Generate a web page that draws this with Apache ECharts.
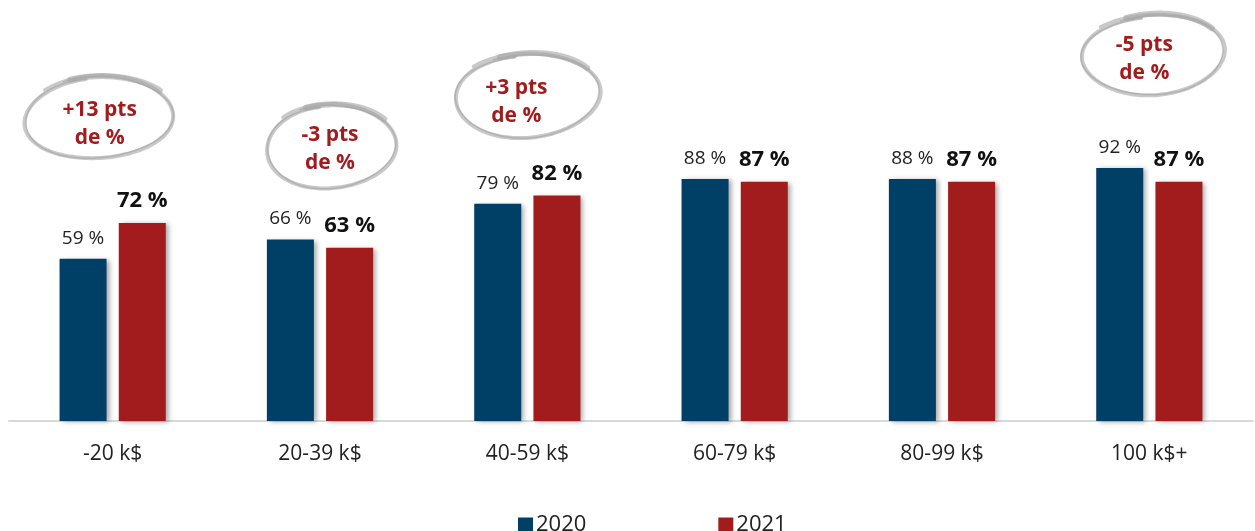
<!DOCTYPE html>
<html>
<head>
<meta charset="utf-8">
<script src="https://cdn.jsdelivr.net/npm/echarts@6/dist/echarts.min.js"></script>
<style>
  html, body { margin: 0; padding: 0; background: #ffffff; }
  #chart { width: 1255px; height: 531px; }
</style>
</head>
<body>
<div id="chart"></div>
<script>
// Income brackets and share per year (%)
const categories = ['-20 k$', '20-39 k$', '40-59 k$', '60-79 k$', '80-99 k$', '100 k$+'];
const values2020 = [59, 66, 79, 88, 88, 92];
const values2021 = [72, 63, 82, 87, 87, 87];
const seriesNames = ['2020', '2021'];

// Change call-outs: category index and text
const noteCategories = [0, 1, 2, 5];
const noteTexts = ['+13 pts\nde %', '-3 pts\nde %', '+3 pts\nde %', '-5 pts\nde %'];

// Call-out placement (pixel offsets from the category centre, absolute y)
const noteLayout = [
  { ringDx: -15, ringY: 118, rx: 77, ry: 42, textDx: -13, textY: 124 },
  { ringDx: 10,  ringY: 147, rx: 67, ry: 43, textDx: 10,  textY: 149 },
  { ringDx: -1,  ringY: 96,  rx: 75, ry: 43, textDx: -11, textY: 102 },
  { ringDx: 3,   ringY: 55,  rx: 74, ry: 41, textDx: -5,  textY: 59 }
];

const FONT = '"Open Sans", "Noto Sans", sans-serif';
const NAVY = '#003f66';
const RED = '#a21c1e';

const chart = echarts.init(document.getElementById('chart'), null, { renderer: 'canvas' });

const barShadow = {
  shadowColor: 'rgba(0,0,0,0.35)',
  shadowBlur: 5,
  shadowOffsetX: 3,
  shadowOffsetY: 1
};

chart.setOption({
  animation: false,
  backgroundColor: '#ffffff',
  textStyle: { fontFamily: FONT },
  grid: { left: 9, right: 2, top: 146, bottom: 110, containLabel: false },
  legend: {
    data: seriesNames,
    left: 513,
    top: 509,
    itemWidth: 15,
    itemHeight: 15,
    itemGap: 132,
    icon: 'rect',
    textStyle: { fontSize: 22, color: '#222', fontFamily: FONT, padding: [0, 0, 0, -2] }
  },
  xAxis: {
    type: 'category',
    data: categories,
    axisTick: { show: false },
    axisLine: { lineStyle: { color: '#d9d9d9', width: 2 } },
    axisLabel: { fontSize: 21, color: '#222', margin: 23, fontFamily: FONT }
  },
  yAxis: {
    type: 'value',
    min: 0,
    max: 100,
    show: false,
    splitLine: { show: false }
  },
  series: [
    {
      name: seriesNames[0],
      type: 'bar',
      data: values2020,
      barWidth: 47,
      barGap: '26%',
      itemStyle: Object.assign({ color: NAVY }, barShadow),
      label: {
        show: true,
        position: 'top',
        distance: 11,
        formatter: p => p.value + ' %',
        fontSize: 19,
        color: '#222',
        fontFamily: FONT
      }
    },
    {
      name: seriesNames[1],
      type: 'bar',
      data: values2021,
      barWidth: 47,
      itemStyle: Object.assign({ color: RED }, barShadow),
      label: {
        show: true,
        position: 'top',
        distance: 11,
        formatter: p => p.value + ' %',
        fontSize: 22,
        fontWeight: 'bold',
        color: '#111',
        fontFamily: FONT
      }
    }
  ]
});

// Hand-drawn style ring: a slightly wobbly spiral going a bit more than one turn
function ringPoints(cx, cy, rx, ry, rot, start, sweep, shrink, wob, phase) {
  const pts = [];
  const n = 90;
  for (let i = 0; i <= n; i++) {
    const f = i / n;
    const t = start + sweep * f;
    const m = (1 - shrink * f) * (1 + wob * Math.sin(3 * t + phase));
    const x = rx * m * Math.cos(t);
    const y = ry * m * Math.sin(t);
    pts.push([
      cx + x * Math.cos(rot) - y * Math.sin(rot),
      cy + x * Math.sin(rot) + y * Math.cos(rot)
    ]);
  }
  return pts;
}

function ringGraphics(cx, cy, rx, ry, k) {
  const rot = -0.06;
  const items = [];
  const strokes = [
    { start: -2.3, sweep: 2 * Math.PI + 0.6, shrink: 0.06, wob: 0.015, w: 4, c: 'rgba(165,165,165,0.6)', s: 1.0 },
    { start: -2.0, sweep: 2 * Math.PI + 0.3, shrink: 0.04, wob: 0.02, w: 1.5, c: 'rgba(150,150,150,0.45)', s: 0.98 },
    { start: -1.9, sweep: 1.3, shrink: 0.0, wob: 0.01, w: 6, c: 'rgba(165,165,165,0.6)', s: 1.0 }
  ];
  strokes.forEach((st, j) => {
    items.push({
      type: 'polyline',
      z: 10,
      silent: true,
      shape: {
        points: ringPoints(cx, cy, rx * st.s, ry * st.s, rot, st.start, st.sweep, st.shrink, st.wob, k + j),
        smooth: 0.3
      },
      style: { stroke: st.c, lineWidth: st.w, fill: null, lineCap: 'round', lineJoin: 'round' }
    });
  });
  return items;
}

function drawNotes() {
  const graphics = [];
  noteCategories.forEach((ci, k) => {
    const lay = noteLayout[k];
    const xc = chart.convertToPixel({ xAxisIndex: 0 }, ci);
    graphics.push(...ringGraphics(xc + lay.ringDx, lay.ringY, lay.rx, lay.ry, k));
    graphics.push({
      type: 'text',
      z: 11,
      silent: true,
      x: xc + lay.textDx,
      y: lay.textY,
      style: {
        text: noteTexts[k],
        fill: '#a21c1e',
        font: 'bold 21px ' + FONT,
        align: 'center',
        verticalAlign: 'middle',
        lineHeight: 28
      }
    });
  });
  chart.setOption({ graphic: graphics });
}

drawNotes();
</script>
</body>
</html>
